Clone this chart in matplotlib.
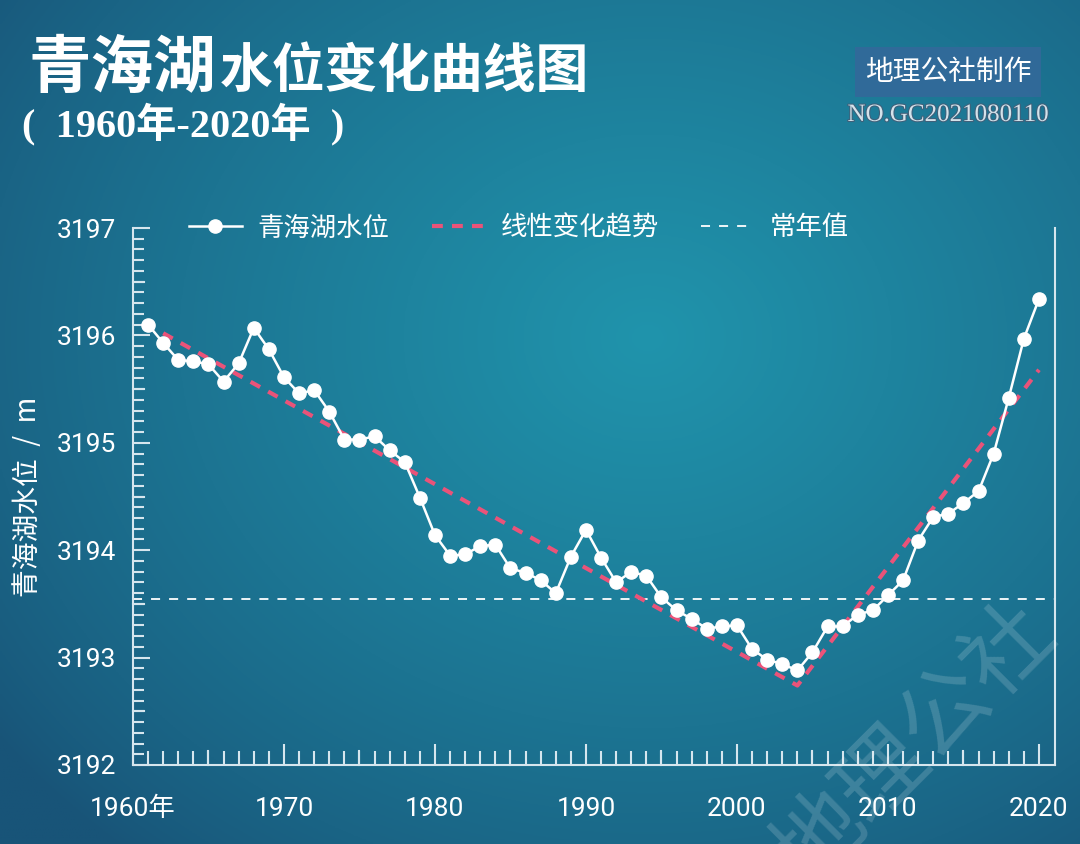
import matplotlib.pyplot as plt
import matplotlib.patheffects as pe
import numpy as np

plt.rcParams['font.family'] = ['Noto Sans CJK SC', 'DejaVu Sans']

# Data
years = list(range(1961, 2021))
level = [3196.10, 3195.93, 3195.77, 3195.76, 3195.73, 3195.57, 3195.74, 3196.07, 3195.87, 3195.61,
         3195.46, 3195.49, 3195.29, 3195.03, 3195.03, 3195.06, 3194.93, 3194.82, 3194.49, 3194.14,
         3193.95, 3193.96, 3194.04, 3194.05, 3193.83, 3193.79, 3193.72, 3193.60, 3193.94, 3194.19,
         3193.93, 3193.70, 3193.80, 3193.76, 3193.56, 3193.44, 3193.36, 3193.27, 3193.29, 3193.30,
         3193.08, 3192.98, 3192.94, 3192.88, 3193.05, 3193.29, 3193.29, 3193.40, 3193.44, 3193.58,
         3193.72, 3194.09, 3194.31, 3194.34, 3194.44, 3194.55, 3194.90, 3195.42, 3195.97, 3196.34]
trend_years = [1962, 2004, 2020]
trend_level = [3196.02, 3192.74, 3195.68]
normal_level = 3193.55
xtick_labels = ['1960年', '1970', '1980', '1990', '2000', '2010', '2020']

W, H = 1080, 844
fig = plt.figure(figsize=(W / 100, H / 100), dpi=100)

# background gradient
bg = fig.add_axes([0, 0, 1, 1])
xx, yy = np.meshgrid(np.linspace(0, 1, 400), np.linspace(0, 1, 320))
d = np.sqrt(((xx - 0.6) / 0.75) ** 2 + ((yy - 0.4) / 0.8) ** 2)
t = np.clip(1 - d, 0, 1) ** 0.8
dark = np.array([24, 84, 120]) / 255
light = np.array([32, 148, 172]) / 255
img = dark + (light - dark) * t[..., None]
bg.imshow(img, aspect='auto', extent=[0, 1, 0, 1], origin='upper')
bg.set_xlim(0, 1)
bg.set_ylim(0, 1)
bg.axis('off')

ax = fig.add_axes([133 / W, 1 - 765 / H, (1055 - 133) / W, (765 - 228) / H])
ax.patch.set_alpha(0)
axis_col = '#d6e6ee'

ax.plot(trend_years, trend_level, color='#ea5379', lw=3, ls=(0, (2.6, 2.2)), zorder=2,
        label='线性变化趋势')
ax.axhline(normal_level, color='white', lw=1.3, ls=(0, (5, 5)), zorder=1, label='常年值')
ax.plot(years, level, color='white', lw=1.8, marker='o', ms=9.5, zorder=3, label='青海湖水位')

ax.set_xlim(1960, 2021.06)
ax.set_ylim(3192, 3197)

for s in ['left', 'bottom', 'right']:
    ax.spines[s].set_color(axis_col)
    ax.spines[s].set_linewidth(1.5)
ax.spines['top'].set_visible(False)

ax.set_yticks([3192, 3193, 3194, 3195, 3196, 3197])
ax.set_yticks(np.arange(3192, 3197.01, 0.1), minor=True)
ax.set_xticks(range(1960, 2021, 10))
ax.set_xticklabels(xtick_labels)
ax.set_xticks(range(1960, 2021), minor=True)
ax.tick_params(axis='y', which='major', direction='in', length=12, width=1.5, color=axis_col,
               labelsize=19, labelcolor='white', pad=12, right=False)
ax.tick_params(axis='y', which='minor', direction='in', length=8, width=1.5, color=axis_col, right=False)
ax.tick_params(axis='x', which='major', direction='in', length=15, width=1.5, color=axis_col,
               labelsize=19, labelcolor='white', pad=23)
ax.tick_params(axis='x', which='minor', direction='in', length=10, width=1.5, color=axis_col)
# half-metre ticks slightly longer
for v in np.arange(3192.5, 3197, 1.0):
    ax.plot([1960, 1960.75], [v, v], color=axis_col, lw=1.5, clip_on=False, zorder=0)
# five-year ticks
for yr in range(1965, 2021, 10):
    ax.plot([yr, yr], [3192, 3192.13], color=axis_col, lw=1.5, clip_on=False, zorder=0)
for lab in ax.get_xticklabels() + ax.get_yticklabels():
    lab.set_family(['Roboto', 'Noto Sans CJK SC'])

ax.set_ylabel('青海湖水位  /  m', color='white', fontsize=20, labelpad=10)

h, l = ax.get_legend_handles_labels()
order = [2, 0, 1]
leg = ax.legend([h[i] for i in order], [l[i] for i in order], loc='center left',
                bbox_to_anchor=(0.035, 1.0), ncol=3, frameon=False, fontsize=19,
                handlelength=2.0, columnspacing=1.6, handletextpad=0.6)
for txt in leg.get_texts():
    txt.set_color('white')

# titles
fig.text(28 / W, 1 - 68 / H, '青海湖', fontsize=45, fontweight='black', color='white', va='center')
fig.text(220 / W, 1 - 72 / H, '水位变化曲线图', fontsize=38, fontweight='black', color='white',
         va='center')
fig.text(22 / W, 1 - 124 / H, '(  1960年-2020年  )', fontsize=29, fontweight='bold', color='white',
         va='center', family=['Liberation Serif', 'Noto Sans CJK SC'])

fig.text(948 / W, 1 - 72 / H, '地理公社制作', fontsize=20, color='white', ha='center', va='center',
         bbox=dict(boxstyle='square,pad=0.35', fc='#33699a', ec='none', alpha=0.9))
fig.text(948 / W, 1 - 115 / H, 'NO.GC2021080110', fontsize=18, color='#d4e2ea', ha='center',
         va='center', family='Liberation Serif',
         path_effects=[pe.withStroke(linewidth=1.5, foreground='#40607a')])

# watermark
fig.text(915 / W, 1 - 745 / H, '地理公社', fontsize=64, color='white', alpha=0.16, rotation=45,
         ha='center', va='center')

fig.savefig('out.png', dpi=100)
